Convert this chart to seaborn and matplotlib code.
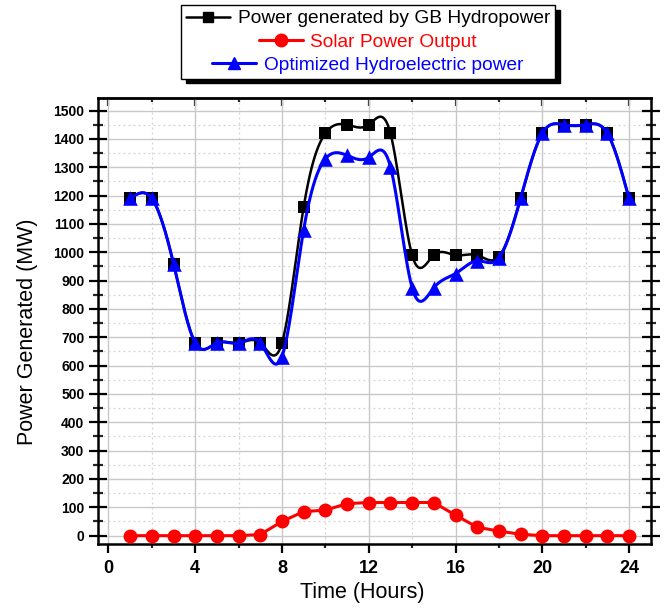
import numpy as np
import pandas as pd
import matplotlib
matplotlib.use("Agg")
import matplotlib.pyplot as plt
from matplotlib.lines import Line2D
from matplotlib.ticker import MultipleLocator
import seaborn as sns

# ---- data ----
hours = list(range(1, 25))
gb_hydro = [1190, 1190, 960, 680, 680, 680, 680, 680, 1160, 1420, 1450, 1450,
            1420, 990, 990, 990, 990, 985, 1190, 1420, 1450, 1450, 1420, 1190]
solar = [0, 0, 0, 0, 0, 0, 4, 50, 85, 90, 113, 117,
         117, 117, 117, 72, 30, 16, 5, 0, 0, 0, 0, 0]
optimized = [1190, 1190, 960, 680, 680, 680, 680, 632, 1080, 1330, 1342, 1335,
             1302, 875, 875, 925, 970, 980, 1190, 1420, 1450, 1450, 1420, 1190]
labels = ["Power generated by GB Hydropower", "Solar Power Output",
          "Optimized Hydroelectric power"]
x_ticks = [0, 4, 8, 12, 16, 20, 24]
y_ticks = list(range(0, 1501, 100))


def natural_spline(x, y, n=600):
    x = np.asarray(x, float)
    y = np.asarray(y, float)
    m = len(x)
    h = np.diff(x)
    A = np.zeros((m, m))
    b = np.zeros(m)
    A[0, 0] = 1
    A[-1, -1] = 1
    for i in range(1, m - 1):
        A[i, i - 1] = h[i - 1]
        A[i, i] = 2 * (h[i - 1] + h[i])
        A[i, i + 1] = h[i]
        b[i] = 6 * ((y[i + 1] - y[i]) / h[i] - (y[i] - y[i - 1]) / h[i - 1])
    M = np.linalg.solve(A, b)
    xs = np.linspace(x[0], x[-1], n)
    idx = np.clip(np.searchsorted(x, xs) - 1, 0, m - 2)
    x0, x1 = x[idx], x[idx + 1]
    y0, y1 = y[idx], y[idx + 1]
    M0, M1 = M[idx], M[idx + 1]
    hh = x1 - x0
    t0 = x1 - xs
    t1 = xs - x0
    ys = (M0 * t0 ** 3 / (6 * hh) + M1 * t1 ** 3 / (6 * hh)
          + (y0 / hh - M0 * hh / 6) * t0 + (y1 / hh - M1 * hh / 6) * t1)
    return xs, ys


sns.set_theme(style="white")
plt.rcParams["font.family"] = ["Liberation Sans", "DejaVu Sans"]
plt.rcParams["text.color"] = "black"
plt.rcParams["axes.labelcolor"] = "black"

fig = plt.figure(figsize=(6.64, 6.08), dpi=100)
ax = fig.add_axes([0.147, 0.105, 0.833, 0.734])

pts = pd.DataFrame({"hour": hours, "gb": gb_hydro, "solar": solar, "opt": optimized})

# black spline + squares
xs, ys = natural_spline(hours, gb_hydro)
sns.lineplot(x=xs, y=ys, ax=ax, color="black", lw=1.8, zorder=3, sort=False)
sns.scatterplot(data=pts, x="hour", y="gb", ax=ax, marker="s", s=65, color="black",
                edgecolor="black", linewidth=0, zorder=4)

# red solar, straight segments
sns.lineplot(data=pts, x="hour", y="solar", ax=ax, color="#ff0000", lw=2.2,
             marker="o", markersize=10, markeredgewidth=0, zorder=5)

# blue spline + triangles
xs2, ys2 = natural_spline(hours, optimized)
sns.lineplot(x=xs2, y=ys2, ax=ax, color="#0000ff", lw=2.2, zorder=6, sort=False)
sns.scatterplot(data=pts, x="hour", y="opt", ax=ax, marker="^", s=110, color="#0000ff",
                edgecolor="#0000ff", linewidth=0, zorder=7)

ax.set_xlim(-0.5, 25)
ax.set_ylim(-30, 1545)
ax.set_xticks(x_ticks)
ax.xaxis.set_minor_locator(MultipleLocator(2))
ax.set_yticks(y_ticks)
ax.yaxis.set_minor_locator(MultipleLocator(50))

ax.grid(which="major", color="#c8c8c8", lw=1.0, ls="-")
ax.grid(which="minor", color="#d2d2d2", lw=0.9, ls=(0, (1.5, 2.5)))
ax.set_axisbelow(True)

for s in ax.spines.values():
    s.set_color("black")
    s.set_linewidth(1.8)

ax.tick_params(axis="x", which="major", direction="out", length=6.5, width=1.6,
               bottom=True, top=False, labelsize=13, pad=5, colors="black")
ax.tick_params(axis="x", which="minor", direction="out", length=3, width=1.6,
               bottom=True, top=False)
ax.tick_params(axis="y", which="major", direction="inout", length=13, width=1.6,
               left=True, right=True, labelsize=10, pad=3, colors="black")
ax.tick_params(axis="y", which="minor", direction="inout", length=6.5, width=1.6,
               left=True, right=True)
for lab in ax.get_xticklabels() + ax.get_yticklabels():
    lab.set_fontweight("bold")

sec = ax.secondary_xaxis("top")
sec.set_xticks(x_ticks)
sec.xaxis.set_minor_locator(MultipleLocator(2))
sec.tick_params(which="major", direction="in", length=6, width=1.6, labeltop=False)
sec.tick_params(which="minor", direction="in", length=3, width=1.6)
sec.spines["top"].set_linewidth(1.8)

ax.set_xlabel("Time (Hours)", fontsize=15.5)
ax.set_ylabel("Power Generated (MW)", fontsize=15.5)
ax.xaxis.set_label_coords(0.478, -0.085)
ax.yaxis.set_label_coords(-0.108, 0.475)

handles = [
    Line2D([], [], color="black", lw=1.8, marker="s", markersize=7),
    Line2D([], [], color="#ff0000", lw=2.2, marker="o", markersize=9),
    Line2D([], [], color="#0000ff", lw=2.2, marker="^", markersize=9),
]
leg = fig.legend(handles, labels, loc="center", bbox_to_anchor=(0.554, 0.931),
                 fontsize=13.8, frameon=True, fancybox=False, edgecolor="black",
                 framealpha=1, handlelength=2.3, labelspacing=0.3,
                 borderpad=0.25, handletextpad=0.4,
                 shadow={"ox": 3.5, "oy": -3.5, "color": "black", "alpha": 1})
leg.get_frame().set_linewidth(1.0)
for t, c in zip(leg.get_texts(), ["black", "#ff0000", "#0000ff"]):
    t.set_color(c)
try:
    for col in leg._legend_handle_box.get_children():
        col.align = "center"
except Exception:
    pass

fig.savefig("out.png", dpi=100)
